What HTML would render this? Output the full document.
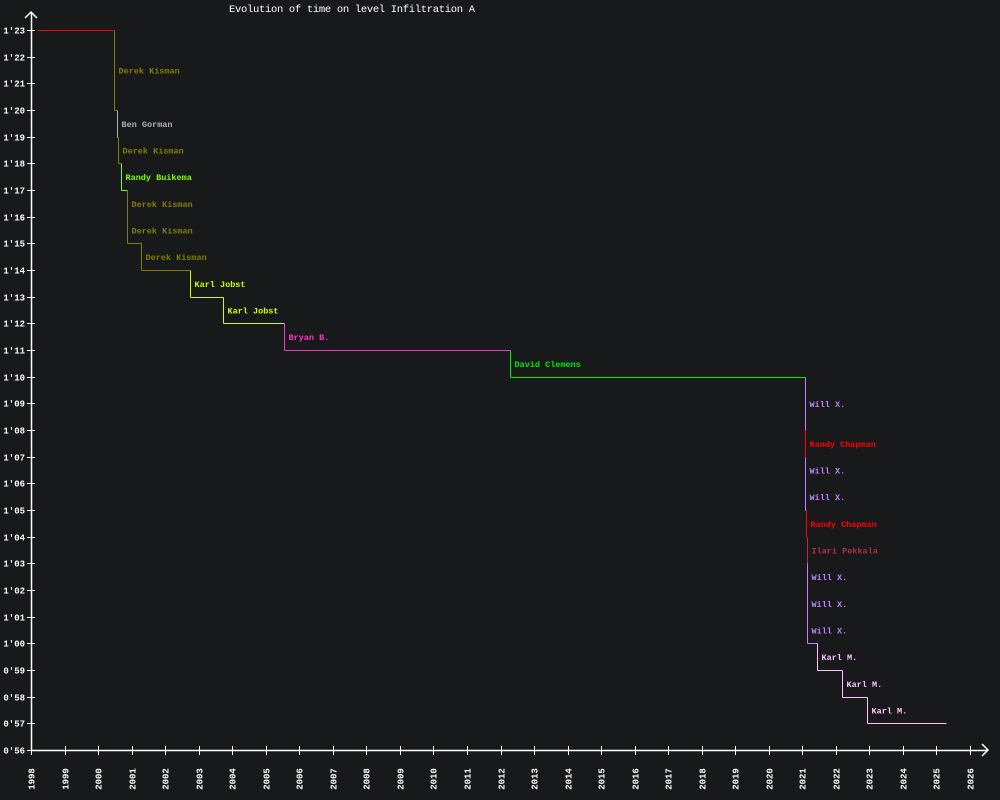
<!DOCTYPE html>
<html><head><meta charset="utf-8"><style>
html,body{margin:0;padding:0;background:#18191b;}
svg{display:block;font-family:"Liberation Mono","DejaVu Sans Mono",monospace;}
</style></head><body>
<svg id="chart" width="1000" height="800" viewBox="0 0 1000 800" shape-rendering="crispEdges">
<rect width="1000" height="800" fill="#18191b"/>
<text x="229" y="12" fill="#ffffff" font-size="10.5" textLength="246">Evolution of time on level Infiltration A</text>
<g id="axes"></g><g id="marks"></g><g id="labels"></g>
</svg>
<script>
const recordDates = [1998.18, 2000.47, 2000.56, 2000.59, 2000.68, 2000.86, 2000.86, 2001.28, 2002.74, 2003.72, 2005.54, 2012.28, 2021.08, 2021.08, 2021.08, 2021.08, 2021.12, 2021.15, 2021.15, 2021.15, 2021.15, 2021.45, 2022.19, 2022.94];
const recordTimes = [83, 80, 79, 78, 77, 76, 75, 74, 73, 72, 71, 70, 68, 67, 66, 65, 64, 63, 62, 61, 60, 59, 58, 57];
const recordHolders = ["", "Derek Kisman", "Ben Gorman", "Derek Kisman", "Randy Buikema", "Derek Kisman", "Derek Kisman", "Derek Kisman", "Karl Jobst", "Karl Jobst", "Bryan B.", "David Clemens", "Will X.", "Randy Chapman", "Will X.", "Will X.", "Randy Chapman", "Ilari Pekkala", "Will X.", "Will X.", "Will X.", "Karl M.", "Karl M.", "Karl M."];
const holderColors = {"":"#ff0000","Derek Kisman":"#808000","Ben Gorman":"#b0b0b0","Randy Buikema":"#80ff00","Karl Jobst":"#ccff00","Bryan B.":"#ff33cc","David Clemens":"#00ee00","Will X.":"#c080ff","Randy Chapman":"#ff0000","Ilari Pekkala":"#b03040","Karl M.":"#ffc0ff"};
const endDate = 2025.27;
const yearTicks = [1998,1999,2000,2001,2002,2003,2004,2005,2006,2007,2008,2009,2010,2011,2012,2013,2014,2015,2016,2017,2018,2019,2020,2021,2022,2023,2024,2025,2026];
const timeTicks = [56,57,58,59,60,61,62,63,64,65,66,67,68,69,70,71,72,73,74,75,76,77,78,79,80,81,82,83];

const NS = "http://www.w3.org/2000/svg";
function xS(y){ return Math.round(31 + (y - 1998) * (939 / 28)) + 0.5; }
function yS(t){ return Math.round(750 - (t - 56) * (720 / 27)) + 0.5; }
function mk(tag, attrs, parent){ const e = document.createElementNS(NS, tag); for (const k in attrs) e.setAttribute(k, attrs[k]); parent.appendChild(e); return e; }
function fmt(t){ const m = Math.floor(t/60), s = t%60; return m + "'" + (s<10?"0":"") + s; }

const axes = document.getElementById("axes");
const marks = document.getElementById("marks");
const labels = document.getElementById("labels");

const xa = mk("path", {d:"M31 750.5 H988 M982 744 L988 750 L982 756", stroke:"#fff", fill:"none", "stroke-width":1.5, "shape-rendering":"auto"}, axes);


const ya = mk("path", {d:"M31.5 750 V12 M25 18 L31 12 L37 18", stroke:"#fff", fill:"none", "stroke-width":1.5, "shape-rendering":"auto"}, axes);



yearTicks.forEach(yr => {
  const x = xS(yr);
  const tk = mk("line", {x1:x, x2:x, y1:746, y2:755, stroke:"#fff"}, axes);
  
  
  const t = mk("text", {x:0, y:0, fill:"#fff", "font-size":9, "font-weight":"bold", "text-anchor":"middle", transform:"translate(" + (x+3) + ",779) rotate(-90)"}, axes);
  t.textContent = yr;
  
  
});
timeTicks.forEach(tv => {
  const y = yS(tv);
  const tk = mk("line", {x1:27, x2:35, y1:y, y2:y, stroke:"#fff"}, axes);
  
  
  const t = mk("text", {x:25, y:y+3, fill:"#fff", "font-size":9, "font-weight":"bold", "text-anchor":"end"}, axes);
  t.textContent = fmt(tv);
  
  
});

for (let i = 0; i < recordDates.length; i++) {
  const col = holderColors[recordHolders[i]];
  const x = xS(recordDates[i]);
  const y = yS(recordTimes[i]);
  const nx = i + 1 < recordDates.length ? xS(recordDates[i+1]) : xS(endDate);
  if (i > 0) {
    const py = yS(recordTimes[i-1]);
    const v = mk("line", {x1:x, x2:x, y1:py, y2:y, stroke:col, "stroke-width":1}, marks);
    
    
    const lb = mk("text", {x:x+4, y:(py+y)/2+3, fill:col, "font-size":8.5, "font-weight":"bold"}, labels);
    lb.textContent = recordHolders[i];
    
    
  }
  const h = mk("line", {x1:x, x2:nx, y1:y, y2:y, stroke:col, "stroke-width":1}, marks);
  
  
}
</script>
</body></html>
